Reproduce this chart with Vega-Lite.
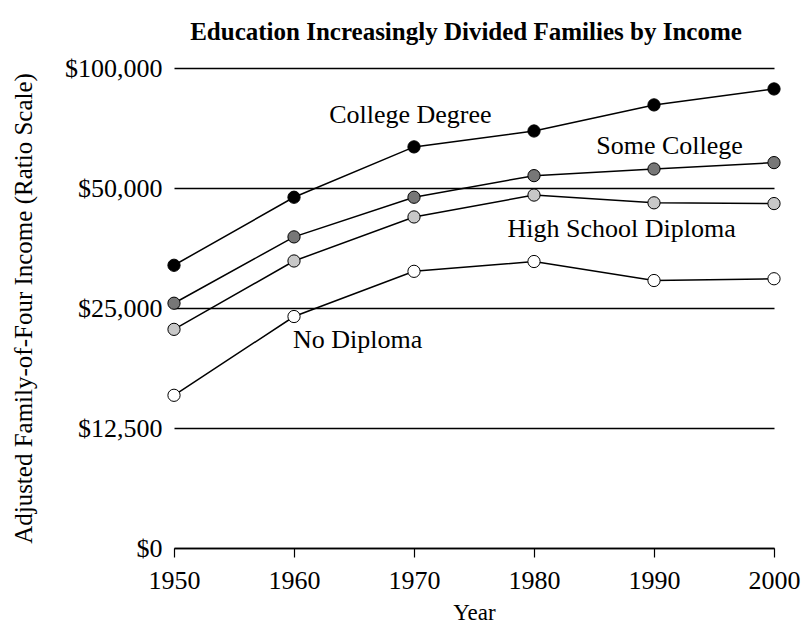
{
  "$schema": "https://vega.github.io/schema/vega-lite/v6.json",
  "width": 600,
  "height": 480,
  "autosize": {"type": "none"},
  "padding": {"left": 174, "top": 68, "right": 36, "bottom": 79},
  "background": "white",
  "config": {
    "font": "Liberation Serif",
    "view": {"stroke": null}
  },
  "title": {
    "text": "Education Increasingly Divided Families by Income",
    "font": "Liberation Serif",
    "fontSize": 25,
    "fontWeight": "bold",
    "color": "black",
    "anchor": "middle",
    "offset": 10,
    "dx": -8
  },
  "datasets": {
    "income": [
      {"group": "College Degree", "year": 1950, "income": 32000},
      {"group": "College Degree", "year": 1960, "income": 47400},
      {"group": "College Degree", "year": 1970, "income": 63400},
      {"group": "College Degree", "year": 1980, "income": 69500},
      {"group": "College Degree", "year": 1990, "income": 80800},
      {"group": "College Degree", "year": 2000, "income": 88600},
      {"group": "Some College", "year": 1950, "income": 25700},
      {"group": "Some College", "year": 1960, "income": 37700},
      {"group": "Some College", "year": 1970, "income": 47400},
      {"group": "Some College", "year": 1980, "income": 53700},
      {"group": "Some College", "year": 1990, "income": 55800},
      {"group": "Some College", "year": 2000, "income": 57900},
      {"group": "High School Diploma", "year": 1950, "income": 22100},
      {"group": "High School Diploma", "year": 1960, "income": 32800},
      {"group": "High School Diploma", "year": 1970, "income": 42300},
      {"group": "High School Diploma", "year": 1980, "income": 48000},
      {"group": "High School Diploma", "year": 1990, "income": 45900},
      {"group": "High School Diploma", "year": 2000, "income": 45700},
      {"group": "No Diploma", "year": 1950, "income": 15100},
      {"group": "No Diploma", "year": 1960, "income": 23800},
      {"group": "No Diploma", "year": 1970, "income": 30900},
      {"group": "No Diploma", "year": 1980, "income": 32700},
      {"group": "No Diploma", "year": 1990, "income": 29300},
      {"group": "No Diploma", "year": 2000, "income": 29600}
    ],
    "labels": [
      {"group": "College Degree", "year": 1969.7, "income": 76200},
      {"group": "Some College", "year": 1991.3, "income": 63700},
      {"group": "High School Diploma", "year": 1987.3, "income": 39450},
      {"group": "No Diploma", "year": 1965.3, "income": 20800}
    ]
  },
  "encoding": {
    "x": {
      "field": "year",
      "type": "quantitative",
      "scale": {"domain": [1950, 2000], "nice": false, "zero": false},
      "axis": {
        "title": "Year",
        "values": [1950, 1960, 1970, 1980, 1990, 2000],
        "format": "d",
        "grid": false,
        "labelFlush": false,
        "labelOverlap": false,
        "domainColor": "black",
        "domainWidth": 1.5,
        "tickColor": "black",
        "tickWidth": 1.2,
        "tickSize": 9,
        "labelFont": "Liberation Serif",
        "labelFontSize": 26,
        "labelColor": "black",
        "labelPadding": 10,
        "titleFont": "Liberation Serif",
        "titleFontSize": 23,
        "titleFontWeight": "normal",
        "titleColor": "black",
        "titlePadding": 8
      }
    },
    "y": {
      "field": "income",
      "type": "quantitative",
      "scale": {"type": "log", "base": 2, "domain": [6250, 100000], "nice": false, "zero": false},
      "axis": {
        "title": "Adjusted Family-of-Four Income (Ratio Scale)",
        "values": [6250, 12500, 25000, 50000, 100000],
        "labelExpr": "datum.value <= 6250 ? '$0' : '$' + format(datum.value, ',')",
        "domain": false,
        "ticks": false,
        "grid": true,
        "gridColor": "black",
        "gridWidth": 1.5,
        "gridOpacity": 1,
        "labelFlush": false,
        "labelOverlap": false,
        "labelFont": "Liberation Serif",
        "labelFontSize": 26,
        "labelColor": "black",
        "labelPadding": 12,
        "titleFont": "Liberation Serif",
        "titleFontSize": 25,
        "titleFontWeight": "normal",
        "titleColor": "black",
        "titlePadding": 28
      }
    }
  },
  "layer": [
    {
      "data": {"name": "income"},
      "mark": {"type": "line", "color": "black", "strokeWidth": 1.5},
      "encoding": {"detail": {"field": "group"}}
    },
    {
      "data": {"name": "income"},
      "mark": {"type": "point", "filled": true, "size": 150, "stroke": "black", "strokeWidth": 1, "opacity": 1},
      "encoding": {
        "fill": {
          "field": "group",
          "type": "nominal",
          "scale": {
            "domain": ["College Degree", "Some College", "High School Diploma", "No Diploma"],
            "range": ["#000000", "#777777", "#c8c8c8", "#ffffff"]
          },
          "legend": null
        }
      }
    },
    {
      "data": {"name": "labels"},
      "mark": {"type": "text", "font": "Liberation Serif", "fontSize": 26, "color": "black", "align": "center", "baseline": "middle"},
      "encoding": {"text": {"field": "group"}}
    }
  ]
}
